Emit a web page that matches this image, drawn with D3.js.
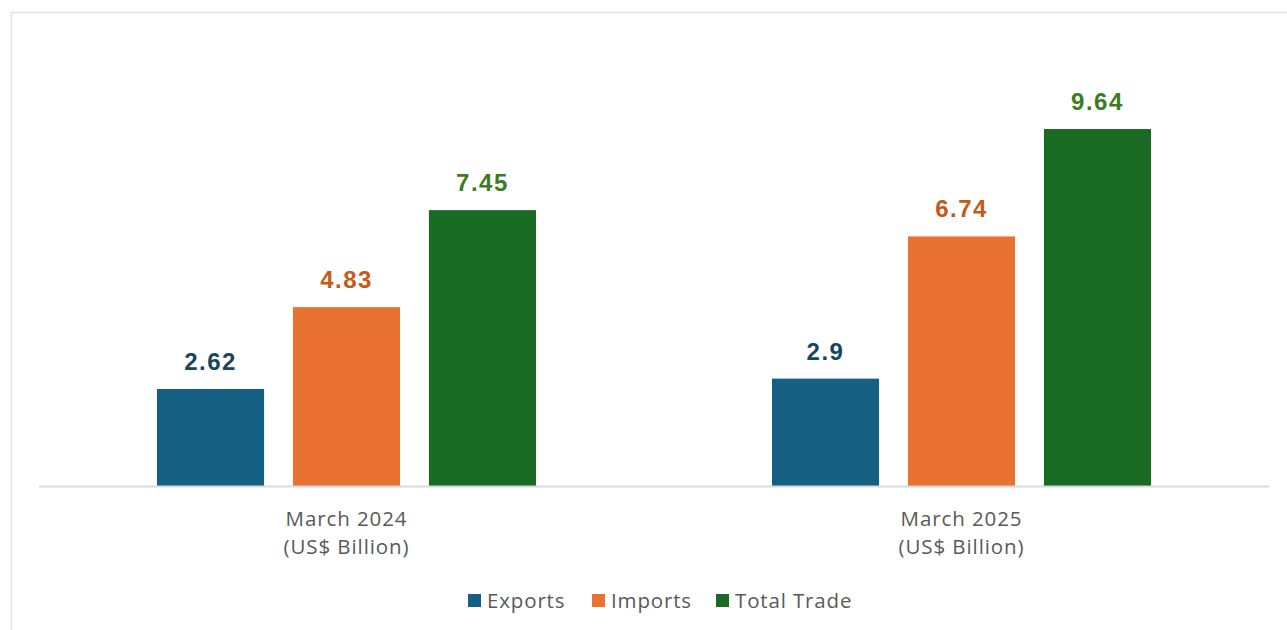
<!DOCTYPE html>
<html><head><meta charset="utf-8">
<script src="https://cdn.jsdelivr.net/npm/d3@7"></script>
<style>body{margin:0;background:#fff;}svg{display:block;}</style>
</head><body>
<script>
const categories = ["March 2024", "March 2025"];
const subLabel = "(US$ Billion)";
const seriesNames = ["Exports", "Imports", "Total Trade"];
const exportsVals = [2.62, 2.9];
const importsVals = [4.83, 6.74];
const totalVals = [7.45, 9.64];
const seriesValues = [exportsVals, importsVals, totalVals];
const barColors = ["#156082", "#e97132", "#196b24"];
const labelColors = ["#17465f", "#c55a18", "#3a7d22"];

const W = 1287, H = 630;
const svg = d3.select("body").append("svg").attr("width", W).attr("height", H);
svg.append("rect").attr("x", 11.5).attr("y", 12.5).attr("width", W).attr("height", H)
  .attr("fill", "#fff").attr("stroke", "#e3e3e3").attr("stroke-width", 1.5);

const x0 = d3.scaleBand().domain(categories).range([39, 1269]);
const groupW = 379;
const x1 = d3.scaleBand().domain(seriesNames).range([0, groupW]).paddingInner(29/136.5);
const y = d3.scaleLinear().domain([0, 12]).range([486, 486 - 12 * 37.03]);

const data = [];
categories.forEach((c, i) => seriesNames.forEach((s, j) => data.push({c, s, j, v: seriesValues[j][i]})));

const g = svg.append("g");
g.selectAll("rect.bar").data(data).enter().append("rect").attr("class", "bar")
  .attr("x", d => x0(d.c) + x0.bandwidth()/2 - groupW/2 + x1(d.s))
  .attr("width", x1.bandwidth())
  .attr("y", d => y(d.v)).attr("height", d => y(0) - y(d.v))
  .attr("fill", d => barColors[d.j]);

g.selectAll("text.val").data(data).enter().append("text").attr("class", "val")
  .attr("x", d => x0(d.c) + x0.bandwidth()/2 - groupW/2 + x1(d.s) + x1.bandwidth()/2)
  .attr("y", d => y(d.v) - 19)
  .attr("text-anchor", "middle")
  .attr("font-family", "Liberation Sans, Arial, sans-serif").attr("font-weight", "bold")
  .attr("font-size", 24).attr("letter-spacing", 1.5).attr("fill", d => labelColors[d.j])
  .text(d => d.v);

// baseline
svg.append("line").attr("x1", 39).attr("x2", 1269).attr("y1", 486.5).attr("y2", 486.5)
  .attr("stroke", "#d9d9d9").attr("stroke-width", 2);

// axis labels
const xa = svg.append("g").attr("transform", "translate(0,486)")
  .call(d3.axisBottom(x0).tickSize(0).tickPadding(0));
xa.select(".domain").remove();
xa.selectAll(".tick text").each(function(d) {
  const t = d3.select(this).text(null).attr("y", 0).attr("dy", null)
    .attr("font-family", "Open Sans, sans-serif").attr("font-size", 20.5)
    .attr("letter-spacing", 0.9).attr("fill", "#595959");
  t.append("tspan").attr("x", 0).attr("y", 40).text(d);
  t.append("tspan").attr("x", 0).attr("y", 68).text(subLabel);
});

// legend
const legendX = [468, 592, 716];
const lg = svg.append("g");
seriesNames.forEach((s, j) => {
  lg.append("rect").attr("x", legendX[j]).attr("y", 594).attr("width", 13).attr("height", 13).attr("fill", barColors[j]);
  lg.append("text").attr("x", legendX[j] + 19).attr("y", 607.5).attr("font-family", "Open Sans, sans-serif")
    .attr("font-size", 20.5).attr("letter-spacing", 0.85).attr("fill", "#595959").text(s);
});
</script>
</body></html>
